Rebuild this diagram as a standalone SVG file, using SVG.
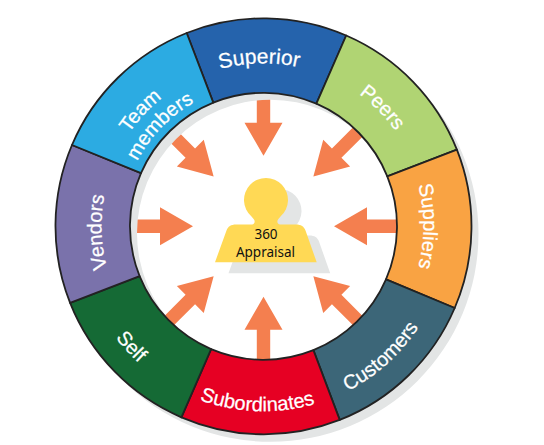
<svg xmlns="http://www.w3.org/2000/svg" width="544" height="445" viewBox="0 0 544 445">
<style>
.seg{stroke:#222;stroke-width:1.8;stroke-linejoin:round}
.lbl{font-family:"Liberation Sans",Arial,sans-serif;font-size:20px;fill:#fff;stroke:#fff;stroke-width:.25;text-anchor:middle}
.arrow{fill:#F47F4F}
.hub{font-family:"Noto Sans","Open Sans",sans-serif;font-size:13.5px;fill:#111;text-anchor:middle}
</style>
<defs>
<path id="a" d="M0-70.500L19-103.500H6.700V-138H-6.700V-103.500H-19Z"/>
<path id="r163" d="M100.500 226.300A163 163 0 0 1 426.500 226.300"/>
<path id="r160" d="M103.500 226.300A160 160 0 0 1 423.500 226.300"/>
<path id="r162" d="M101.500 226.300A162 162 0 0 1 425.500 226.300"/>
<path id="r165" d="M100 226.300A163.500 163.500 0 0 1 427 226.300"/>
<path id="r141" d="M121.500 226.300A142 142 0 0 1 405.500 226.300"/>
<path id="r185" d="M78.500 226.300A185 185 0 0 0 448.500 226.300"/>
<path id="p" d="M252 224.500C254 224.500 255 222.500 254.500 220.500C254 219 252.500 218 251.500 216.500A22 22 0 1 1 280.500 216.500C279.500 218 278 219 277.500 220.500C277 222.500 278 224.500 280 224.500H296C301 224.500 304 226.500 305.500 230.500L316.700 262.300H215L226.500 230.500C228 226.500 231 224.500 236 224.500Z"/>
</defs>
<rect width="544" height="445" fill="#fff"/>
<g id="connectors" class="arrow">
<use href="#a" transform="translate(263.500 226.300)"/>
<use href="#a" transform="translate(263.500 226.300) rotate(45)"/>
<use href="#a" transform="translate(263.500 226.300) rotate(90)"/>
<use href="#a" transform="translate(263.500 226.300) rotate(135)"/>
<use href="#a" transform="translate(263.500 226.300) rotate(180)"/>
<use href="#a" transform="translate(263.500 226.300) rotate(225)"/>
<use href="#a" transform="translate(263.500 226.300) rotate(270)"/>
<use href="#a" transform="translate(263.500 226.300) rotate(315)"/>
</g>
<path id="ring-shadow" fill="#E3E5E5" fill-rule="evenodd" d="M62.500 233.800A208 208 0 1 1 478.500 233.800A208 208 0 1 1 62.500 233.800ZM137 233.300A133.500 133.500 0 1 0 404 233.300A133.500 133.500 0 1 0 137 233.300Z"/>
<g id="node-superior"><path class="seg" fill="#2563AC" d="M186.700 33A208 208 0 0 1 346.200 35.500L316.400 103.700A133.500 133.500 0 0 0 213.300 102.600Z"/><text class="lbl" style="font-size:21px" transform="rotate(-1.500 263.500 226.300)"><textPath href="#r163" startOffset="50%">Superior</textPath></text></g>
<g id="node-peers"><path class="seg" fill="#B0D473" d="M346.200 35.500A208 208 0 0 1 456.900 149.600L387.300 176.300A133.500 133.500 0 0 0 316.400 103.700Z"/><text class="lbl" transform="rotate(45 263.500 226.300)"><textPath href="#r163" startOffset="50%">Peers</textPath></text></g>
<g id="node-suppliers"><path class="seg" fill="#F9A343" d="M456.900 149.600A208 208 0 0 1 454.700 308L386 279.300A133.500 133.500 0 0 0 387.300 176.300Z"/><text class="lbl" transform="rotate(90 263.500 226.300)"><textPath href="#r160" startOffset="50%">Suppliers</textPath></text></g>
<g id="node-customers"><path class="seg" fill="#3C6678" d="M454.700 308A208 208 0 0 1 339.700 419.900L313.400 350.100A133.500 133.500 0 0 0 386 279.300Z"/><text class="lbl" transform="rotate(-42 263.500 226.300)"><textPath href="#r185" startOffset="50%">Customers</textPath></text></g>
<g id="node-subordinates"><path class="seg" fill="#E60023" d="M339.700 419.900A208 208 0 0 1 181.400 417.300L211.100 349.100A133.500 133.500 0 0 0 313.400 350.100Z"/><text class="lbl" transform="rotate(2 263.500 226.300)"><textPath href="#r185" startOffset="50%">Subordinates</textPath></text></g>
<g id="node-self"><path class="seg" fill="#156A35" d="M181.400 417.300A208 208 0 0 1 70.100 302.900L139.600 276.100A133.500 133.500 0 0 0 211.100 349.100Z"/><text class="lbl" transform="rotate(47.700 263.500 226.300)"><textPath href="#r185" startOffset="50%">Self</textPath></text></g>
<g id="node-vendors"><path class="seg" fill="#7A72AB" d="M70.100 302.900A208 208 0 0 1 72 145L141 173.100A133.500 133.500 0 0 0 139.600 276.100Z"/><text class="lbl" transform="rotate(-92 263.500 226.300)"><textPath href="#r162" startOffset="50%">Vendors</textPath></text></g>
<g id="node-team-members"><path class="seg" fill="#2CABE2" d="M72 145A208 208 0 0 1 186.700 33L213.300 102.600A133.500 133.500 0 0 0 141 173.100Z"/><text class="lbl" transform="rotate(-46.800 263.500 226.300)"><textPath href="#r165" startOffset="50%">Team</textPath></text><text class="lbl" transform="rotate(-46 263.500 226.300)"><textPath href="#r141" startOffset="50%">members</textPath></text></g>
<g id="node-360-appraisal">
<use href="#p" fill="#E3E5E5" transform="translate(13.500 11)"/>
<use href="#p" fill="#FFD955"/>
<text class="hub" x="266" y="238.500">360</text>
<text class="hub" x="265.500" y="256.500">Appraisal</text>
</g>
</svg>
